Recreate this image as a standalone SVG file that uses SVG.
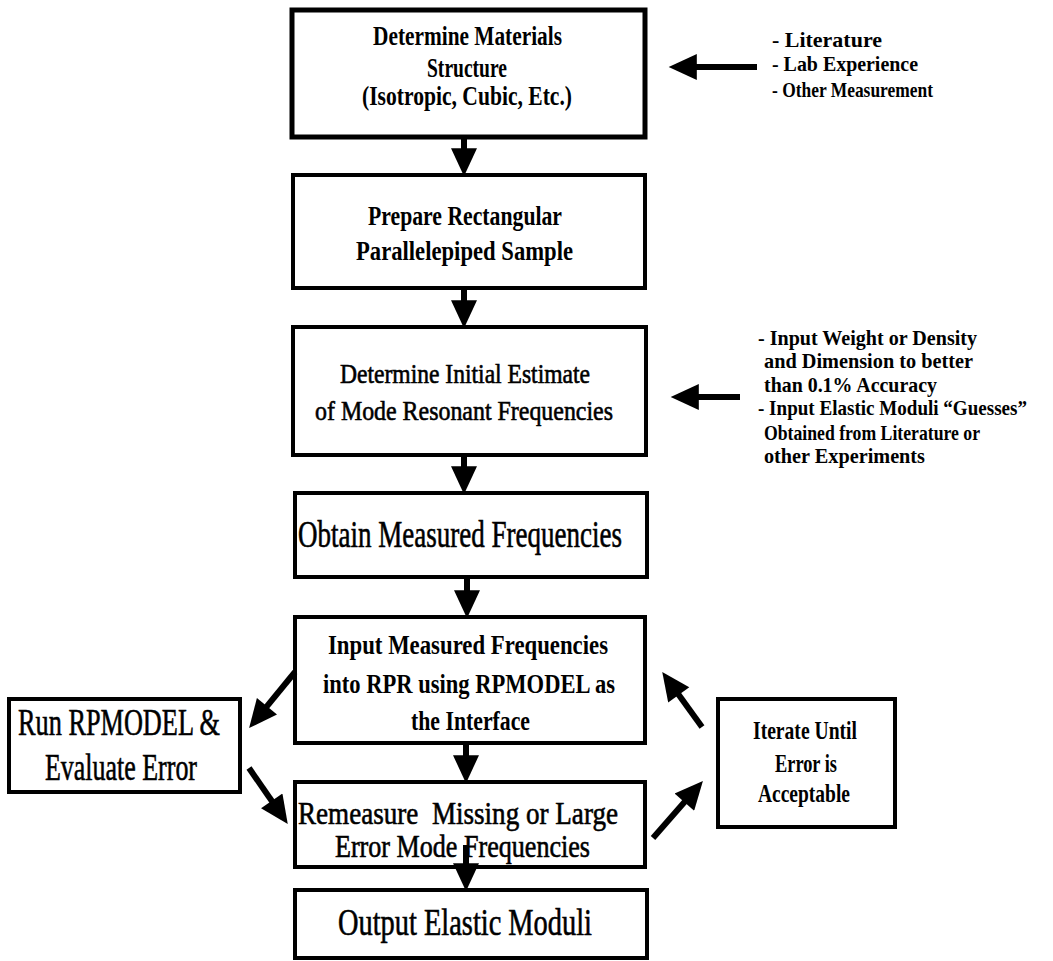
<svg xmlns="http://www.w3.org/2000/svg" width="1053" height="961" viewBox="0 0 1053 961">
<style>
.box{fill:#fff;stroke:#000;stroke-width:4}
.thick{stroke-width:5}
text{font-family:"Liberation Serif","Times New Roman",serif;fill:#000}
.b{font-weight:bold}
.r{stroke:#000;stroke-width:0.6}
.conn{stroke:#000;stroke-width:6;fill:none;marker-end:url(#ah)}
</style>
<defs>
<marker id="ah" markerUnits="userSpaceOnUse" markerWidth="30" markerHeight="26" viewBox="0 0 26 24" refX="10" refY="12" orient="auto">
<path d="M0,0 L26,12 L0,24 z" fill="#000"/>
</marker>
</defs>
<rect width="1053" height="961" fill="#fff"/>
<g id="node-materials">
<rect class="box thick" x="292" y="10" width="353" height="127"/>
<text class="b" x="373" y="45" font-size="28" textLength="189" lengthAdjust="spacingAndGlyphs">Determine Materials</text>
<text class="b" x="427" y="77" font-size="28" textLength="80" lengthAdjust="spacingAndGlyphs">Structure</text>
<text class="b" x="362" y="105" font-size="28" textLength="210" lengthAdjust="spacingAndGlyphs">(Isotropic, Cubic, Etc.)</text>
</g>
<g id="note-sources">
<text class="b" x="772" y="47" font-size="22" textLength="110" lengthAdjust="spacingAndGlyphs">- Literature</text>
<text class="b" x="772" y="71" font-size="22" textLength="146" lengthAdjust="spacingAndGlyphs">- Lab Experience</text>
<text class="b" x="772" y="97" font-size="22" textLength="161" lengthAdjust="spacingAndGlyphs">- Other Measurement</text>
</g>
<g id="node-prepare">
<rect class="box" x="293" y="175" width="352" height="113"/>
<text class="b" x="368" y="225" font-size="28" textLength="194" lengthAdjust="spacingAndGlyphs">Prepare Rectangular</text>
<text class="b" x="356" y="260" font-size="28" textLength="217" lengthAdjust="spacingAndGlyphs">Parallelepiped Sample</text>
</g>
<g id="node-estimate">
<rect class="box" x="293" y="327" width="353" height="128"/>
<text class="r" x="340" y="383" font-size="27" textLength="250" lengthAdjust="spacingAndGlyphs">Determine Initial Estimate</text>
<text class="r" x="315" y="420" font-size="27" textLength="298" lengthAdjust="spacingAndGlyphs">of Mode Resonant Frequencies</text>
</g>
<g id="note-inputs">
<text class="b" x="758" y="345" font-size="21" textLength="219" lengthAdjust="spacingAndGlyphs">- Input Weight or Density</text>
<text class="b" x="764" y="368" font-size="21" textLength="209" lengthAdjust="spacingAndGlyphs">and Dimension to better</text>
<text class="b" x="764" y="392" font-size="21" textLength="173" lengthAdjust="spacingAndGlyphs">than 0.1% Accuracy</text>
<text class="b" x="758" y="415" font-size="21" textLength="269" lengthAdjust="spacingAndGlyphs">- Input Elastic Moduli “Guesses”</text>
<text class="b" x="764" y="440" font-size="21" textLength="216" lengthAdjust="spacingAndGlyphs">Obtained from Literature or</text>
<text class="b" x="764" y="463" font-size="21" textLength="161" lengthAdjust="spacingAndGlyphs">other Experiments</text>
</g>
<g id="node-obtain">
<rect class="box" x="295" y="493" width="352" height="84"/>
<text class="r" x="298" y="547" font-size="38" textLength="324" lengthAdjust="spacingAndGlyphs">Obtain Measured Frequencies</text>
</g>
<g id="node-input">
<rect class="box" x="295" y="617" width="350" height="126"/>
<text class="b" x="328" y="654" font-size="27" textLength="280" lengthAdjust="spacingAndGlyphs">Input Measured Frequencies</text>
<text class="b" x="323" y="693" font-size="27" textLength="292" lengthAdjust="spacingAndGlyphs">into RPR using RPMODEL as</text>
<text class="b" x="411" y="730" font-size="27" textLength="119" lengthAdjust="spacingAndGlyphs">the Interface</text>
</g>
<g id="node-run">
<rect class="box" x="9" y="699" width="231" height="93"/>
<text class="r" x="18" y="735" font-size="38" textLength="202" lengthAdjust="spacingAndGlyphs">Run RPMODEL &amp;</text>
<text class="r" x="45" y="780" font-size="38" textLength="152" lengthAdjust="spacingAndGlyphs">Evaluate Error</text>
</g>
<g id="node-iterate">
<rect class="box" x="718" y="699" width="177" height="128"/>
<text class="b" x="753" y="739" font-size="26" textLength="104" lengthAdjust="spacingAndGlyphs">Iterate Until</text>
<text class="b" x="775" y="772" font-size="26" textLength="62" lengthAdjust="spacingAndGlyphs">Error is</text>
<text class="b" x="758" y="802" font-size="26" textLength="92" lengthAdjust="spacingAndGlyphs">Acceptable</text>
</g>
<g id="node-remeasure">
<rect class="box" x="295" y="782" width="350" height="85"/>
<text class="r" x="298" y="824" font-size="32" xml:space="preserve" textLength="320" lengthAdjust="spacingAndGlyphs">Remeasure  Missing or Large</text>
<text class="r" x="335" y="857" font-size="31" textLength="255" lengthAdjust="spacingAndGlyphs">Error Mode Frequencies</text>
</g>
<g id="node-output">
<rect class="box" x="295" y="890" width="352" height="68"/>
<text class="r" x="338" y="935" font-size="38" textLength="254" lengthAdjust="spacingAndGlyphs">Output Elastic Moduli</text>
</g>
<g id="connectors">
<line class="conn" x1="464" y1="137" x2="464" y2="159"/>
<line class="conn" x1="464" y1="288" x2="464" y2="311"/>
<line class="conn" x1="464" y1="455" x2="464" y2="477"/>
<line class="conn" x1="467" y1="577" x2="467" y2="601"/>
<line class="conn" x1="466" y1="743" x2="466" y2="766"/>
<line class="conn" x1="466" y1="845" x2="466" y2="874"/>
<line class="conn" x1="757" y1="67" x2="686" y2="67"/>
<line class="conn" x1="740" y1="397" x2="688" y2="397"/>
<line class="conn" x1="295" y1="672" x2="260.1" y2="714.6"/>
<line class="conn" x1="249" y1="768" x2="277.9" y2="809.8"/>
<line class="conn" x1="653" y1="838" x2="691.5" y2="794"/>
<line class="conn" x1="702" y1="727" x2="672.4" y2="686"/>
</g>
</svg>
